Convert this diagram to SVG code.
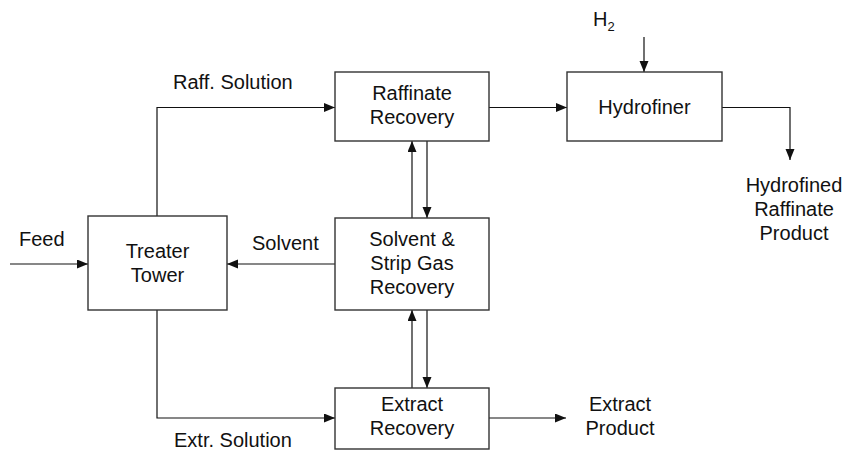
<svg xmlns="http://www.w3.org/2000/svg" width="845" height="450" viewBox="0 0 845 450">
  <style>
    .box { fill: #ffffff; stroke: #333333; stroke-width: 1.4; }
    .flow { fill: none; stroke: #111111; stroke-width: 1.2; marker-end: url(#arrow); }
    text { font-family: "Liberation Sans", Arial, sans-serif; font-size: 20px; fill: #111111; }
    .c { text-anchor: middle; }
  </style>
  <defs>
    <marker id="arrow" markerUnits="userSpaceOnUse" markerWidth="12" markerHeight="10" refX="11" refY="4.5" orient="auto">
      <path d="M0,0 L11,4.5 L0,9 Z" fill="#111111"/>
    </marker>
  </defs>
  <rect width="845" height="450" fill="#ffffff"/>

  <!-- process streams -->
  <g id="connectors">
    <path class="flow" d="M10,264 H88"/>
    <path class="flow" d="M335,264 H227"/>
    <path class="flow" d="M157,216 V107.5 H335"/>
    <path class="flow" d="M157,310 V418 H335"/>
    <path class="flow" d="M489,107.5 H567"/>
    <path class="flow" d="M722,107.5 H790 V160"/>
    <path class="flow" d="M644,37 V72"/>
    <path class="flow" d="M412,218 V141"/>
    <path class="flow" d="M427,141 V218"/>
    <path class="flow" d="M412,388 V310"/>
    <path class="flow" d="M427,310 V388"/>
    <path class="flow" d="M489,418 H566"/>
  </g>

  <!-- stream labels -->
  <g id="labels">
    <text x="19" y="246">Feed</text>
    <text x="252" y="250">Solvent</text>
    <text x="173" y="89">Raff. Solution</text>
    <text x="174" y="447">Extr. Solution</text>
    <text x="593" y="26">H<tspan font-size="13" dy="5">2</tspan></text>
    <text class="c" x="794" y="192">Hydrofined</text>
    <text class="c" x="794" y="216">Raffinate</text>
    <text class="c" x="794" y="240">Product</text>
    <text class="c" x="620" y="411">Extract</text>
    <text class="c" x="620" y="435">Product</text>
  </g>

  <g id="treater-tower">
    <rect class="box" x="88" y="216" width="139" height="94"/>
    <text class="c" x="157.5" y="258">Treater</text>
    <text class="c" x="157.5" y="282">Tower</text>
  </g>

  <g id="raffinate-recovery">
    <rect class="box" x="335" y="72" width="154" height="69"/>
    <text class="c" x="412" y="100">Raffinate</text>
    <text class="c" x="412" y="124">Recovery</text>
  </g>

  <g id="solvent-recovery">
    <rect class="box" x="335" y="218" width="154" height="92"/>
    <text class="c" x="412" y="246">Solvent &amp;</text>
    <text class="c" x="412" y="270">Strip Gas</text>
    <text class="c" x="412" y="294">Recovery</text>
  </g>

  <g id="extract-recovery">
    <rect class="box" x="335" y="388" width="154" height="61"/>
    <text class="c" x="412" y="411">Extract</text>
    <text class="c" x="412" y="435">Recovery</text>
  </g>

  <g id="hydrofiner">
    <rect class="box" x="567" y="72" width="155" height="69"/>
    <text class="c" x="644.5" y="114">Hydrofiner</text>
  </g>
</svg>
